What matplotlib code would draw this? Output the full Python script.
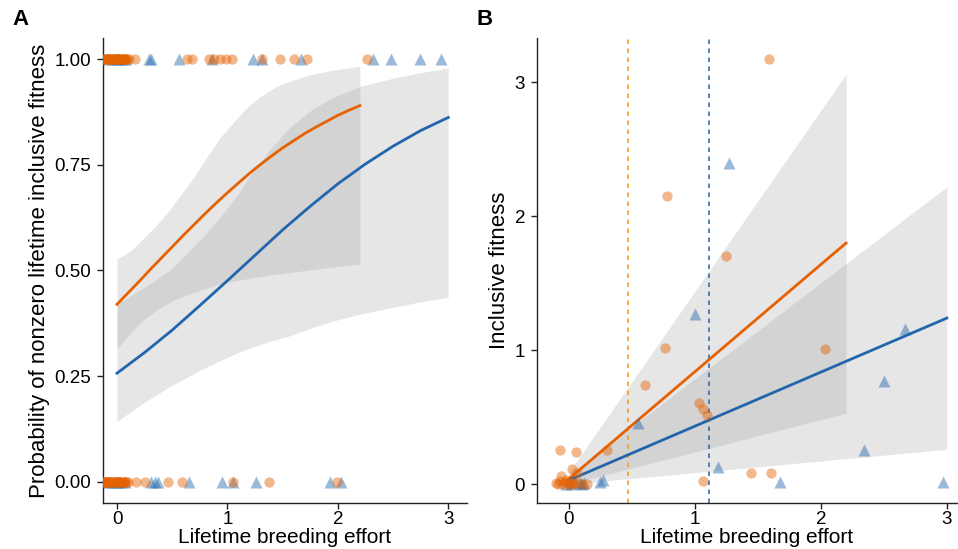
import matplotlib
matplotlib.use("Agg")
import matplotlib.pyplot as plt

plt.rcParams['font.family'] = ['Liberation Sans', 'DejaVu Sans']

# ---------------- colours ----------------
ORANGE = "#E66101"
BLUE = "#2166AC"
ORANGE_DASH = "#F0A022"
BLUE_DASH = "#3E6AA3"
RIBBON = "#999999"

# ---------------- Panel A data ----------------
# fitted probability curves
A_orange_curve_x = [0.0, 0.1, 0.2, 0.3, 0.4, 0.5, 0.6, 0.7, 0.8, 0.9, 1.0, 1.1, 1.2, 1.3, 1.4, 1.5, 1.6,
                    1.7, 1.8, 1.9, 2.0, 2.1, 2.2]
A_orange_curve_y = [0.420, 0.447, 0.474, 0.502, 0.529, 0.556, 0.583, 0.609, 0.635, 0.660, 0.684, 0.707,
                    0.730, 0.751, 0.771, 0.790, 0.807, 0.824, 0.839, 0.853, 0.867, 0.879, 0.890]
A_blue_curve_x = [0.0, 0.25, 0.5, 0.75, 1.0, 1.25, 1.5, 1.75, 2.0, 2.25, 2.5, 2.75, 3.0]
A_blue_curve_y = [0.257, 0.306, 0.359, 0.417, 0.476, 0.536, 0.596, 0.652, 0.705, 0.752, 0.794, 0.831, 0.862]

# confidence ribbons
A_orange_rib_x = [0.0, 0.12, 0.235, 0.36, 0.476, 0.58, 0.688, 0.78, 0.929, 1.08, 1.17, 1.3, 1.44, 1.53,
                  1.74, 1.95, 2.2]
A_orange_rib_lo = [0.315, 0.352, 0.382, 0.406, 0.425, 0.437, 0.447, 0.456, 0.468, 0.476, 0.480, 0.486,
                   0.491, 0.494, 0.501, 0.508, 0.515]
A_orange_rib_hi = [0.527, 0.546, 0.575, 0.608, 0.643, 0.680, 0.718, 0.755, 0.813, 0.858, 0.884, 0.912,
                   0.935, 0.945, 0.962, 0.974, 0.983]
A_blue_rib_x = [0.0, 0.235, 0.476, 0.78, 0.929, 1.08, 1.20, 1.38, 1.56, 1.77, 1.98, 2.2, 2.5, 2.75, 3.0]
A_blue_rib_lo = [0.143, 0.186, 0.225, 0.268, 0.286, 0.304, 0.316, 0.332, 0.345, 0.365, 0.382, 0.397,
                 0.413, 0.426, 0.437]
A_blue_rib_hi = [0.420, 0.458, 0.500, 0.580, 0.625, 0.675, 0.722, 0.785, 0.837, 0.882, 0.912, 0.935,
                 0.955, 0.968, 0.979]

# raw observations (outcome 0/1)
A_orange_x = [-0.12, -0.115, -0.11, -0.10, -0.095, -0.09, -0.08, -0.075, -0.07, -0.06, -0.05, -0.045,
              -0.04, -0.03, -0.02, -0.015, -0.01, 0.0, 0.005, 0.01, 0.02, 0.025, 0.03, 0.04, 0.05, 0.055,
              0.06, 0.07, 0.08, 0.09, 0.11, 0.16, 0.63, 0.68, 0.83, 0.88, 0.93, 0.99,
              1.04, 1.31, 1.48, 1.60, 1.72, 2.26,
              -0.12, -0.115, -0.11, -0.10, -0.095, -0.09, -0.08, -0.075, -0.07, -0.06, -0.05, -0.045,
              -0.04, -0.03, -0.02, -0.01, 0.0, 0.005, 0.01, 0.02, 0.03, 0.04, 0.05, 0.06, 0.07, 0.08,
              0.10, 0.17, 0.25, 0.46, 0.59, 1.05, 1.38, 1.99]
A_orange_y = [1] * 44 + [0] * 34
A_blue_x = [-0.08, -0.04, -0.01, 0.02, 0.05, 0.08, 0.29, 0.31, 0.56, 0.86, 1.23, 1.31, 1.67, 2.32, 2.48,
            2.74, 2.93,
            -0.08, -0.05, -0.02, 0.01, 0.04, 0.07, 0.31, 0.34, 0.37, 0.65, 0.95, 1.05, 1.26, 1.93, 2.03]
A_blue_y = [1] * 17 + [0] * 15

# ---------------- Panel B data ----------------
B_orange_line_x = [0.0, 2.2]
B_orange_line_y = [0.04, 1.80]
B_blue_line_x = [0.0, 3.0]
B_blue_line_y = [0.03, 1.24]

B_orange_rib_x = [0.0, 2.2]
B_orange_rib_lo = [0.0, 0.53]
B_orange_rib_hi = [0.09, 3.06]
B_blue_rib_x = [0.0, 3.0]
B_blue_rib_lo = [0.0, 0.26]
B_blue_rib_hi = [0.07, 2.22]

B_orange_threshold = 0.47
B_blue_threshold = 1.11

B_orange_x = [1.587, 0.778, 1.246, 0.762, 0.603, 2.03, 1.034, 1.061, 1.098, 0.304, -0.071, 0.053, 1.066,
              1.442, 1.60, 0.026, -0.066, 0.061, -0.106, -0.071, -0.032, 0.003, 0.034, 0.14, 0.10,
              -0.085, -0.05, 0.0, 0.02, -0.02, 0.06]
B_orange_y = [3.17, 2.15, 1.70, 1.02, 0.74, 1.01, 0.607, 0.558, 0.517, 0.254, 0.254, 0.241, 0.025,
              0.087, 0.082, 0.11, 0.06, 0.084, 0.01, 0.025, 0.017, 0.005, 0.01, 0.005, 0.005,
              0.0, 0.0, 0.02, 0.0, 0.03, 0.01]
B_blue_x = [1.27, 1.0, 2.67, 2.50, 0.55, 2.34, 1.18, 1.675, 2.97, 0.27, 0.25, 0.087, -0.02, 0.05, 0.10,
            0.02, 0.12]
B_blue_y = [2.40, 1.27, 1.16, 0.77, 0.46, 0.254, 0.13, 0.017, 0.017, 0.03, 0.02, 0.01, 0.005, 0.02, 0.0,
            0.0, 0.01]

# ---------------- figure ----------------
fig = plt.figure(figsize=(9.58, 5.49), dpi=100)
axA = fig.add_axes([0.1075, 0.0838, 0.380, 0.847])
axB = fig.add_axes([0.5605, 0.0838, 0.4384, 0.847])

LBL = 16
XLBL = 15
TCK = 13.5


def style(ax):
    for s in ("top", "right"):
        ax.spines[s].set_visible(False)
    for s in ("left", "bottom"):
        ax.spines[s].set_linewidth(1.0)
        ax.spines[s].set_color("#222222")
    ax.tick_params(axis="both", length=4, width=1.0, color="#222222", labelsize=TCK,
                   labelcolor="black", pad=4.5)
    ax.tick_params(axis="x", pad=2)


# Panel A
axA.fill_between(A_orange_rib_x, A_orange_rib_lo, A_orange_rib_hi, color=RIBBON, alpha=0.24, lw=0)
axA.fill_between(A_blue_rib_x, A_blue_rib_lo, A_blue_rib_hi, color=RIBBON, alpha=0.24, lw=0)
axA.plot(A_orange_curve_x, A_orange_curve_y, color=ORANGE, lw=2.0)
axA.plot(A_blue_curve_x, A_blue_curve_y, color=BLUE, lw=2.0)
axA.scatter(A_blue_x, A_blue_y, s=75, marker="^", color=BLUE, alpha=0.45, lw=0, zorder=3)
axA.scatter(A_orange_x, A_orange_y, s=55, marker="o", color=ORANGE, alpha=0.45, lw=0, zorder=3)
axA.set_xlim(-0.127, 3.17)
axA.set_ylim(-0.05, 1.05)
axA.set_xticks([0, 1, 2, 3])
axA.set_yticks([0.0, 0.25, 0.5, 0.75, 1.0])
axA.set_yticklabels(["0.00", "0.25", "0.50", "0.75", "1.00"])
axA.set_xlabel("Lifetime breeding effort", fontsize=XLBL, labelpad=0)
axA.set_ylabel("Probability of nonzero lifetime inclusive fitness", fontsize=LBL, labelpad=3)
style(axA)

# Panel B
axB.fill_between(B_orange_rib_x, B_orange_rib_lo, B_orange_rib_hi, color=RIBBON, alpha=0.24, lw=0)
axB.fill_between(B_blue_rib_x, B_blue_rib_lo, B_blue_rib_hi, color=RIBBON, alpha=0.24, lw=0)
axB.axvline(B_orange_threshold, color=ORANGE_DASH, lw=1.2, ls=(0, (2.7, 2.7)))
axB.axvline(B_blue_threshold, color=BLUE_DASH, lw=1.2, ls=(0, (2.7, 2.7)))
axB.plot(B_orange_line_x, B_orange_line_y, color=ORANGE, lw=2.0)
axB.plot(B_blue_line_x, B_blue_line_y, color=BLUE, lw=2.0)
axB.scatter(B_blue_x, B_blue_y, s=75, marker="^", color=BLUE, alpha=0.45, lw=0, zorder=3)
axB.scatter(B_orange_x, B_orange_y, s=55, marker="o", color=ORANGE, alpha=0.45, lw=0, zorder=3)
axB.set_xlim(-0.254, 3.08)
axB.set_ylim(-0.14, 3.33)
axB.set_xticks([0, 1, 2, 3])
axB.set_yticks([0, 1, 2, 3])
axB.set_xlabel("Lifetime breeding effort", fontsize=XLBL, labelpad=0)
axB.set_ylabel("Inclusive fitness", fontsize=LBL, labelpad=3)
style(axB)

fig.text(0.013, 0.965, "A", fontsize=16, fontweight="bold", va="center", ha="left")
fig.text(0.497, 0.965, "B", fontsize=16, fontweight="bold", va="center", ha="left")

fig.savefig("out.png", dpi=100)
